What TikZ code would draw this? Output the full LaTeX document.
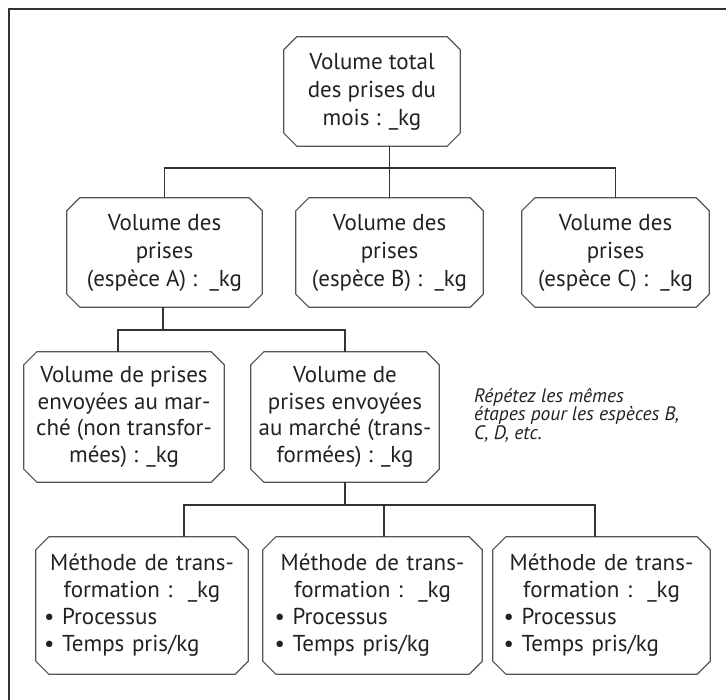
\documentclass[tikz,border=0pt]{standalone}
\usepackage{fontspec}
\setmainfont{PT Sans}
\definecolor{boxgray}{HTML}{555555}
\definecolor{linegray}{HTML}{333333}
\definecolor{txt}{HTML}{222222}
\newlength\chmf
\setlength\chmf{13pt}
\newcommand\chbox[1]{\draw[boxline] ([xshift=\chmf]#1.north west) -- ([xshift=-\chmf]#1.north east) -- ([yshift=-\chmf]#1.north east) -- ([yshift=\chmf]#1.south east) -- ([xshift=-\chmf]#1.south east) -- ([xshift=\chmf]#1.south west) -- ([yshift=\chmf]#1.south west) -- ([yshift=-\chmf]#1.north west) -- cycle;}
\begin{document}
\begin{tikzpicture}[x=1pt,y=-1pt,
  boxline/.style={draw=boxgray,line width=1.2pt},
  conn/.style={draw=linegray,line width=1.4pt},
  boxtext/.style={inner sep=0pt,align=center,text=txt,font=\fontsize{23}{28}\selectfont},
  methtext/.style={inner sep=0pt,text=txt,text width=196pt,font=\fontsize{23}{27}\selectfont},
  note/.style={inner sep=0pt,align=left,anchor=north west,text=txt,font=\fontsize{19.5}{18.5}\selectfont\itshape}]
\useasboundingbox (0,0) rectangle (726,700);
\fill[white] (0,0) rectangle (726,700);
% outer frame (top and left only visible)
\draw[conn] (9,700) -- (9,9) -- (726,9);
% boxes
\node[boxtext,minimum width=176pt,minimum height=109pt] (top) at (372,91.5) {Volume total\\des prises du\\mois : \_kg};
\node[boxtext,minimum width=195pt,minimum height=109pt] (A) at (164.5,252.5) {Volume des\\prises\\(espèce A) :\ \ \_kg};
\node[boxtext,minimum width=187pt,minimum height=109pt] (B) at (389.5,252.5) {Volume des\\prises\\(espèce B) :\ \ \_kg};
\node[boxtext,minimum width=187pt,minimum height=109pt] (C) at (615.5,252.5) {Volume des\\prises\\(espèce C) :\ \ \_kg};
\node[boxtext,minimum width=200pt,minimum height=130pt,font=\fontsize{23}{26.5}\selectfont] (D) at (124,417) {Volume de prises\\envoyées au mar-\\ché (non transfor-\\mées) : \_kg};
\node[boxtext,minimum width=188pt,minimum height=130pt,font=\fontsize{23}{26.5}\selectfont] (E) at (345,417) {Volume de\\prises envoyées\\au marché (trans-\\formées) : \_kg};
\node[methtext,minimum width=212pt,minimum height=137pt] (M1) at (142,605.5) {{\centering Méthode de trans-\\formation :\ \ \_kg\par}\raggedright • Processus\\• Temps pris/kg};
\node[methtext,minimum width=219pt,minimum height=137pt] (M2) at (372.5,605.5) {{\centering Méthode de trans-\\formation :\ \ \_kg\par}\raggedright • Processus\\• Temps pris/kg};
\node[methtext,minimum width=217pt,minimum height=137pt] (M3) at (601.5,605.5) {{\centering Méthode de trans-\\formation :\ \ \_kg\par}\raggedright • Processus\\• Temps pris/kg};
\foreach \n in {top,A,B,C,D,E,M1,M2,M3} {\chbox{\n}}
% note
\node[note] (note) at (474,388) {Répétez les mêmes\\étapes pour les espèces B,\\C, D, etc.};
% connector coordinates
\coordinate (bar1) at (0,168);
\coordinate (bar2) at (0,330);
\coordinate (bar3) at (0,505);
\coordinate (d1) at (118,0);
\coordinate (m1) at (184,0);
\coordinate (m2) at (384,0);
\coordinate (m3) at (595,0);
% connectors
\draw[conn] (top.south -| B.north) -- (B.north);
\draw[conn] (A.north) -- (A.north |- bar1) -- (C.north |- bar1) -- (C.north);
\draw[conn] ([xshift=-1.5pt]A.south) -- ([xshift=-1.5pt]A.south |- bar2);
\draw[conn] (d1 |- D.north) -- (d1 |- bar2) -- (E.north |- bar2) -- (E.north);
\draw[conn] (E.south) -- (E.south |- bar3);
\draw[conn] (m1 |- M1.north) -- (m1 |- bar3) -- (m3 |- bar3) -- (m3 |- M3.north);
\draw[conn] (m2 |- bar3) -- (m2 |- M2.north);
\end{tikzpicture}
\end{document}
